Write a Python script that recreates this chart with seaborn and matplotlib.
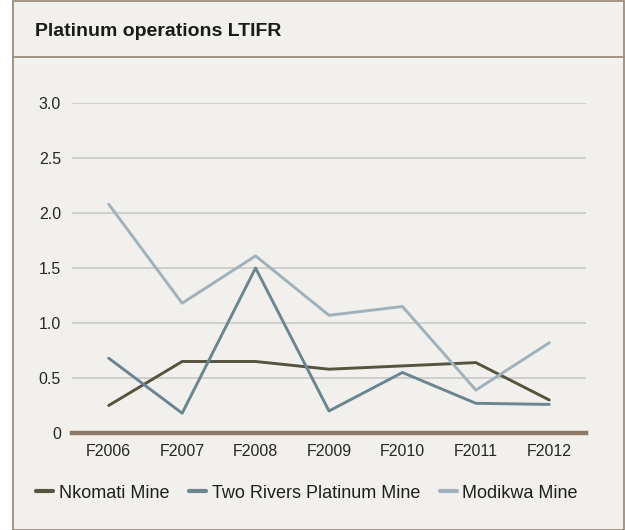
import pandas as pd
import seaborn as sns
import matplotlib.pyplot as plt
from matplotlib.patches import Rectangle
from matplotlib.lines import Line2D

anos = ['F2006', 'F2007', 'F2008', 'F2009', 'F2010', 'F2011', 'F2012']
nkomati = [0.25, 0.65, 0.65, 0.58, 0.61, 0.64, 0.30]
two_rivers = [0.68, 0.18, 1.50, 0.20, 0.55, 0.27, 0.26]
modikwa = [2.08, 1.18, 1.61, 1.07, 1.15, 0.39, 0.82]
minas = ['Nkomati Mine', 'Two Rivers Platinum Mine', 'Modikwa Mine']
yticks = [0, 0.5, 1.0, 1.5, 2.0, 2.5, 3.0]
ytick_labels = ['0', '0.5', '1.0', '1.5', '2.0', '2.5', '3.0']

df = pd.DataFrame({
    'ano': anos * 3,
    'ltifr': nkomati + two_rivers + modikwa,
    'mina': [m for m in minas for _ in anos],
})

cores = {'Nkomati Mine': '#56533f', 'Two Rivers Platinum Mine': '#6b8591', 'Modikwa Mine': '#9fb1ba'}
fundo = '#f2f0ec'
borda = '#9c8d7d'

sns.set_style('white')
plt.rcParams['font.family'] = ['Liberation Sans', 'DejaVu Sans']

fig = plt.figure(figsize=(6.25, 5.3), dpi=100)
fig.patch.set_facecolor('white')

# moldura e faixa do titulo
W, H = 625, 530
fig.patches.append(Rectangle((13 / W, 0), 611 / W, (H - 6) / H + 0.01, transform=fig.transFigure,
                             facecolor=fundo, edgecolor=borda, linewidth=1.3, zorder=-10))
fig.lines.append(Line2D([13 / W, 624 / W], [1 - 57 / H, 1 - 57 / H], transform=fig.transFigure,
                        color=borda, linewidth=1.3))
fig.text(35 / W, 1 - 32 / H, 'Platinum operations LTIFR', fontsize=14, fontweight='bold',
         color='#1a1a1a', va='center', ha='left')

ax = fig.add_axes([72 / W, 1 - 433 / H, 514 / W, 330 / H])
ax.set_facecolor(fundo)
sns.lineplot(data=df, x='ano', y='ltifr', hue='mina', palette=cores, linewidth=2.1,
             sort=False, legend=False, ax=ax, clip_on=False)

ax.set_xlim(-0.5, 6.5)
ax.set_ylim(0, 3.0)
ax.set_yticks(yticks)
ax.set_yticklabels(ytick_labels)
ax.yaxis.grid(True, color='#c9c9c9', linewidth=1.2)
ax.set_axisbelow(True)
for s in ['top', 'right', 'left']:
    ax.spines[s].set_visible(False)
ax.spines['bottom'].set_color('#8c7a68')
ax.spines['bottom'].set_linewidth(3.2)
ax.spines['bottom'].set_zorder(1.5)
ax.tick_params(axis='both', length=0, labelsize=11.5, labelcolor='#262626')
ax.tick_params(axis='x', pad=8)
ax.tick_params(axis='y', pad=8)
ax.set_xlabel('')
ax.set_ylabel('')

handles = [Line2D([0], [0], color=cores[m], linewidth=3.0) for m in minas]
fig.legend(handles, minas, loc='center', bbox_to_anchor=(307 / W, 1 - 493 / H), ncol=3,
           frameon=False, fontsize=13, handlelength=0.95, handletextpad=0.3, columnspacing=1.1,
           labelcolor='#1f1f1f')

plt.savefig('out.png', dpi=100, facecolor='white')
